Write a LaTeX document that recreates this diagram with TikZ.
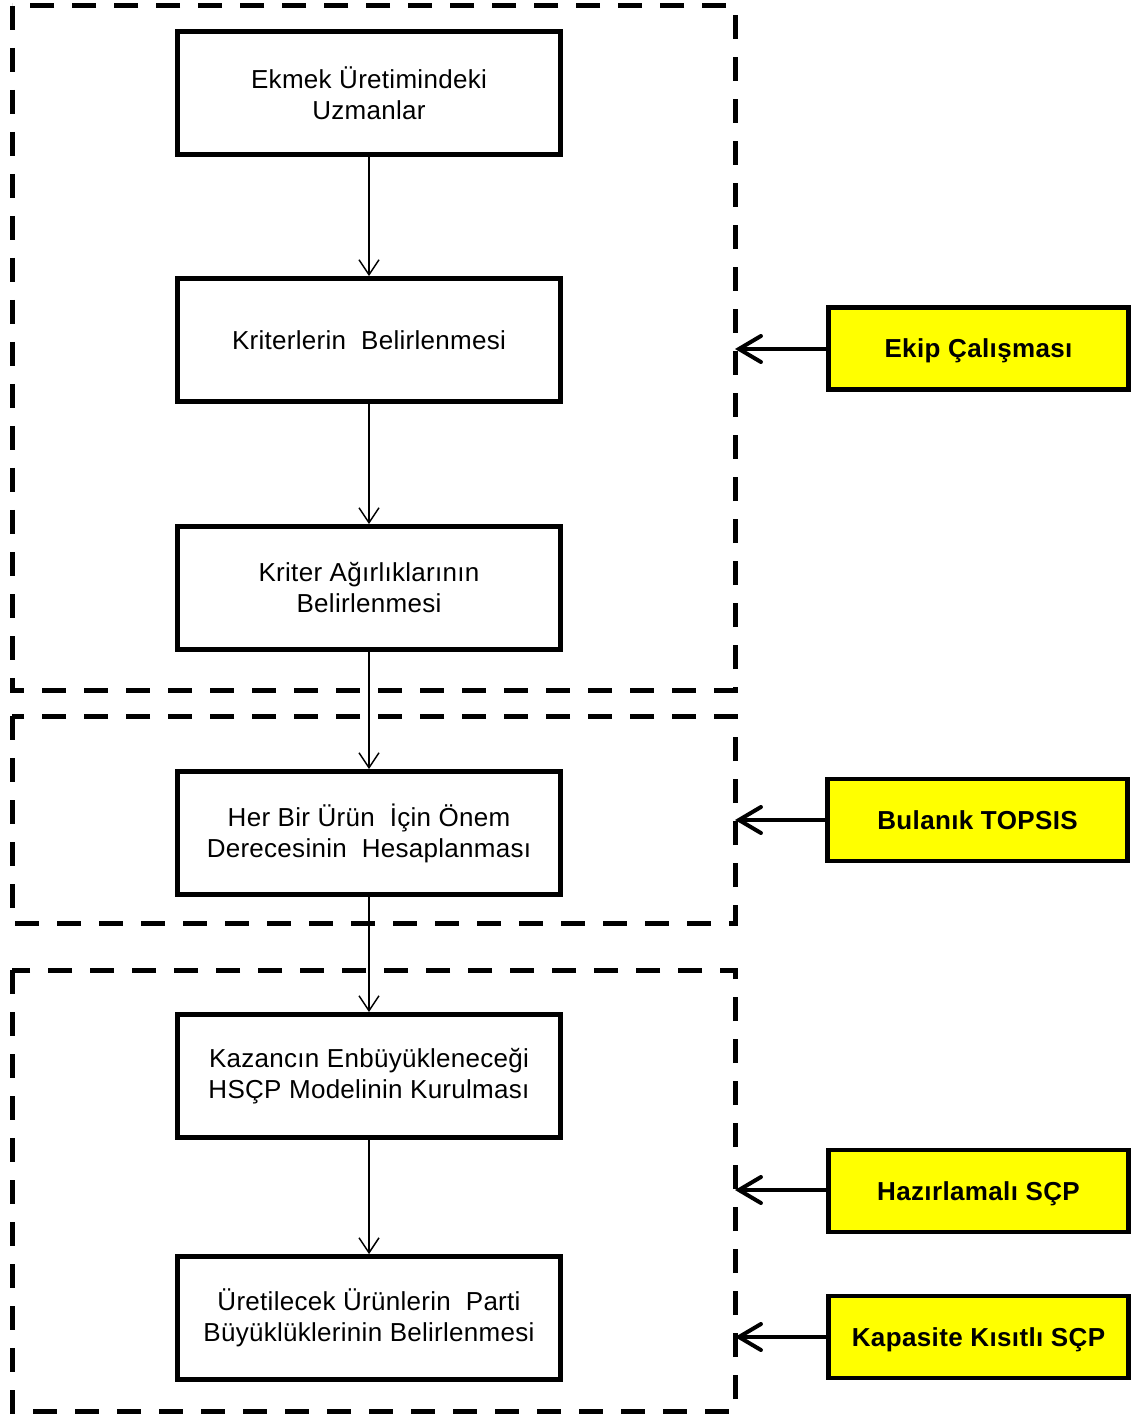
\documentclass[tikz,border=0pt]{standalone}
\usepackage{fontspec}
\setmainfont{Liberation Sans}[LetterSpace=1.1]
\usetikzlibrary{arrows.meta}
\definecolor{hiyellow}{RGB}{255,255,0}
\tikzset{
  flowbox/.style={draw, line width=2.4pt, minimum width=191.5pt, minimum height=61.5pt,
    align=center, inner sep=2pt, font=\fontsize{13pt}{15.5pt}\selectfont},
  methodbox/.style={draw, line width=2.4pt, fill=hiyellow, minimum width=150pt, minimum height=41pt,
    align=center, text depth=-1pt, font=\fontsize{13pt}{15.5pt}\selectfont\bfseries\addfontfeatures{LetterSpace=1.4}},
  groupbox/.style={line width=2.5pt, dash pattern=on 12pt off 9pt},
  thinarrow/.style={line width=0.75pt, -{Straight Barb[length=7.5pt,width=10pt]}},
  thickarrow/.style={line width=2pt, -{Straight Barb[length=11pt,width=13pt,line cap=round]}}
}
\begin{document}
\begin{tikzpicture}[x=0.5pt,y=-0.5pt]
\useasboundingbox (0,0) rectangle (1137,1416);
% group boxes
\draw[groupbox] (12,6) rectangle (735,690);
\draw[groupbox] (12,716) rectangle (735,923);
\draw[groupbox] (12,970) rectangle (735,1411);
\coordinate (g1) at (735,349);
\coordinate (g2) at (735,820);
\coordinate (g3) at (735,1190);
\coordinate (g4) at (735,1337);
% flow boxes
\node[flowbox] (b1) at (369,93) {Ekmek Üretimindeki\\Uzmanlar};
\node[flowbox] (b2) at (369,340) {Kriterlerin\ \ Belirlenmesi};
\node[flowbox] (b3) at (369,588) {Kriter Ağırlıklarının\\Belirlenmesi};
\node[flowbox] (b4) at (369,833) {Her Bir Ürün\ \ İçin Önem\\Derecesinin\ \ Hesaplanması};
\node[flowbox] (b5) at (369,1076) {Kazancın Enbüyükleneceği\\HSÇP Modelinin Kurulması};
\node[flowbox] (b6) at (369,1318) {Üretilecek Ürünlerin\ \ Parti\\Büyüklüklerinin Belirlenmesi};
\draw[thinarrow] (b1) -- (b2);
\draw[thinarrow] (b2) -- (b3);
\draw[thinarrow] (b3) -- (b4);
\draw[thinarrow] (b4) -- (b5);
\draw[thinarrow] (b5) -- (b6);
% method boxes
\node[methodbox] (m1) at (978.5,348.5) {Ekip Çalışması};
\node[methodbox] (m2) at (977.5,820) {Bulanık TOPSIS};
\node[methodbox] (m3) at (978.5,1191) {Hazırlamalı SÇP};
\node[methodbox] (m4) at (978.5,1337) {Kapasite Kısıtlı SÇP};
\draw[thickarrow] (m1.west |- g1) -- (g1);
\draw[thickarrow] (m2.west |- g2) -- (g2);
\draw[thickarrow] (m3.west |- g3) -- (g3);
\draw[thickarrow] (m4.west |- g4) -- (g4);
\end{tikzpicture}
\end{document}
